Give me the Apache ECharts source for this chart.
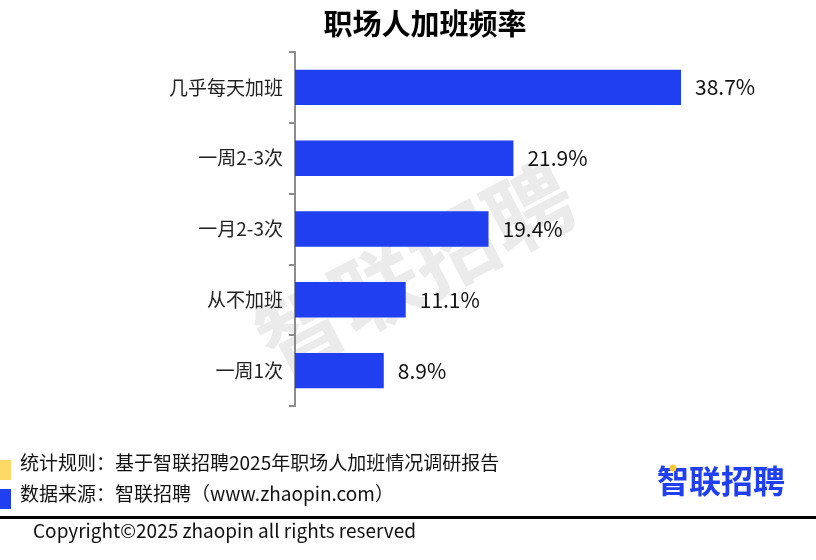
<!DOCTYPE html>
<html>
<head>
<meta charset="utf-8">
<script src="https://cdn.jsdelivr.net/npm/echarts@6/dist/echarts.min.js"></script>
<style>
  html, body { margin: 0; padding: 0; background: #fff; }
  #main { width: 816px; height: 560px; }
</style>
</head>
<body>
<div id="main"></div>
<script>
  // 数据
  const categories = ['几乎每天加班', '一周2-3次', '一月2-3次', '从不加班', '一周1次']
  const values = [38.7, 21.9, 19.4, 11.1, 8.9]
  const titleText = '职场人加班频率'
  const noteRule = '统计规则：基于智联招聘2025年职场人加班情况调研报告'
  const noteSource = '数据来源：智联招聘（www.zhaopin.com）'
  const copyright = 'Copyright©2025 zhaopin all rights reserved'

  const font = '"Noto Sans CJK SC", "Microsoft YaHei", sans-serif'
  const myChart = echarts.init(document.getElementById('main'))

  let option = {
    backgroundColor: '#fff',
    textStyle: { fontFamily: font },
    title: {
      text: titleText,
      left: 420,
      textAlign: 'center',
      top: 4,
      textStyle: { fontSize: 29, fontWeight: 'bold', color: '#000', fontFamily: font }
    },
    grid: { left: 295, top: 52, width: 399, height: 354, containLabel: false },
    xAxis: {
      type: 'value',
      min: 0,
      max: 40,
      show: false
    },
    yAxis: {
      type: 'category',
      data: categories,
      inverse: true,
      axisLine: { show: true, lineStyle: { color: '#8c8c8c', width: 2 } },
      axisTick: { show: true, length: 6, lineStyle: { color: '#8c8c8c', width: 2 } },
      axisLabel: { fontSize: 19, color: '#222', margin: 12, fontFamily: font }
    },
    graphic: [
      {
        type: 'text',
        z: 0,
        x: 415, y: 268,
        rotation: Math.PI / 6.5,
        style: {
          text: '智联招聘',
          fill: 'rgba(205,205,205,0.4)',
          font: 'bold 86px ' + font,
          textAlign: 'center',
          textVerticalAlign: 'middle'
        }
      },
      { type: 'rect', shape: { x: 0, y: 460, width: 11, height: 20 }, style: { fill: '#FFD966' } },
      { type: 'rect', shape: { x: 0, y: 489, width: 11, height: 20 }, style: { fill: '#1F3FF0' } },
      {
        type: 'text', x: 20, y: 463,
        style: { text: noteRule, font: '19px ' + font, fill: '#111', textVerticalAlign: 'middle' }
      },
      {
        type: 'text', x: 20, y: 494,
        style: { text: noteSource, font: '19px ' + font, fill: '#111', textVerticalAlign: 'middle' }
      },
      { type: 'rect', shape: { x: 0, y: 516, width: 816, height: 3 }, style: { fill: '#000' } },
      {
        type: 'text', x: 33, y: 531,
        style: { text: copyright, font: '19px ' + font, fill: '#111', textVerticalAlign: 'middle' }
      },
      {
        type: 'text', x: 721, y: 481,
        style: {
          text: '智联招聘', font: 'bold 32px ' + font, fill: '#1F3FF0',
          textAlign: 'center', textVerticalAlign: 'middle'
        }
      },
      { type: 'circle', shape: { cx: 673, cy: 468, r: 3.5 }, style: { fill: '#FFC933' }, z: 10 }
    ],
    series: [
      {
        type: 'bar',
        data: values,
        barWidth: '50%',
        z: 2,
        itemStyle: { color: '#1F3FF0' },
        label: {
          show: true,
          position: 'right',
          distance: 14,
          formatter: '{c}%',
          fontSize: 21,
          color: '#111',
          fontFamily: font
        }
      }
    ]
  }
  option && myChart.setOption(option)
  window.addEventListener('resize', () => {
    myChart.resize()
  })
</script>
</body>
</html>
